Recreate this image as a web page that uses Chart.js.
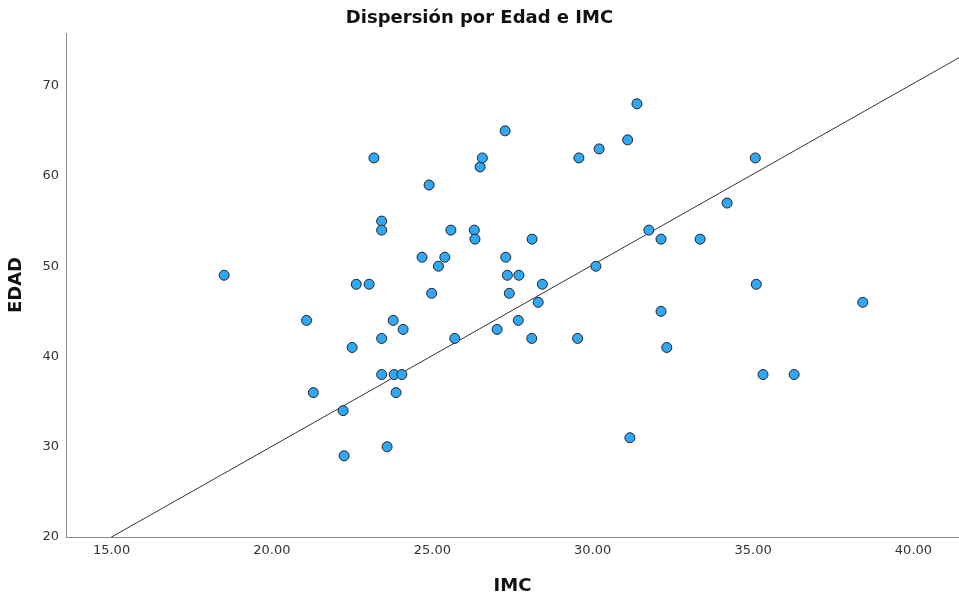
<!DOCTYPE html>
<html>
<head>
<meta charset="utf-8">
<script src="https://cdn.jsdelivr.net/npm/chart.js@4/dist/chart.umd.min.js"></script>
<style>
  html, body { margin: 0; padding: 0; background: #fff; }
  #wrap { width: 959px; height: 598px; }
</style>
</head>
<body>
<div id="wrap"><canvas id="scatterChart"></canvas></div>
<script>
const imcValues = [
  18.51, 21.08, 21.29, 22.22, 22.25, 22.50, 22.63, 23.03, 23.18, 23.42,
  23.42, 23.42, 23.42, 23.59, 23.78, 23.81, 23.87, 24.05, 24.09, 24.68,
  24.90, 24.98, 25.19, 25.39, 25.58, 25.70, 26.31, 26.33, 26.49, 26.56,
  27.02, 27.27, 27.29, 27.34, 27.40, 27.68, 27.70, 28.10, 28.11, 28.30,
  28.43, 29.53, 29.57, 30.10, 30.20, 31.09, 31.16, 31.38, 31.75, 32.13,
  32.13, 32.31, 33.35, 34.19, 35.07, 35.10, 35.31, 36.28, 38.42
];
const edadValues = [
  49, 44, 36, 34, 29, 41, 48, 48, 62, 55,
  54, 42, 38, 30, 44, 38, 36, 38, 43, 51,
  59, 47, 50, 51, 54, 42, 54, 53, 61, 62,
  43, 65, 51, 49, 47, 44, 49, 42, 53, 46,
  48, 42, 62, 50, 63, 64, 31, 68, 54, 53,
  45, 41, 53, 57, 62, 48, 38, 38, 46
];

// recta de ajuste: EDAD = slope * IMC + intercept
const fitSlope = 2.01;
const fitIntercept = -10.15;

const xRange = [13.58, 41.42];
const yRange = [20, 75.84];
const xTicks = [15, 20, 25, 30, 35, 40];
const yTicks = [20, 30, 40, 50, 60, 70];

const points = imcValues.map((x, i) => ({ x, y: edadValues[i] }));
const fitPoints = xRange.map(x => ({ x, y: fitSlope * x + fitIntercept }));

const tickFont = { family: 'DejaVu Sans', size: 13 };
const titleFont = { family: 'DejaVu Sans', size: 18, weight: 'bold' };

new Chart(document.getElementById('scatterChart'), {
  type: 'scatter',
  data: {
    datasets: [
      {
        label: 'Datos',
        data: points,
        backgroundColor: '#30a8f8',
        borderColor: '#222',
        borderWidth: 1,
        pointRadius: 5,
        pointHoverRadius: 5,
        order: 0
      },
      {
        label: 'Ajuste',
        type: 'line',
        data: fitPoints,
        borderColor: '#333',
        borderWidth: 1,
        pointRadius: 0,
        fill: false,
        order: 1
      }
    ]
  },
  options: {
    responsive: true,
    maintainAspectRatio: false,
    animation: false,
    layout: { padding: 0, autoPadding: false },
    plugins: {
      legend: { display: false },
      tooltip: { enabled: false },
      title: {
        display: true,
        text: 'Dispersión por Edad e IMC',
        color: '#111',
        font: titleFont,
        padding: { top: 8, bottom: 3.4 }
      }
    },
    scales: {
      x: {
        type: 'linear',
        min: xRange[0],
        max: xRange[1],
        afterBuildTicks: scale => { scale.ticks = xTicks.map(v => ({ value: v })); },
        afterFit: scale => { scale.height = 61; },
        grid: { display: false, drawTicks: false },
        border: { display: true, color: '#8a8a8a', width: 1 },
        ticks: {
          color: '#333',
          font: tickFont,
          padding: 6,
          maxRotation: 0,
          callback: v => Number(v).toFixed(2)
        },
        title: {
          display: true,
          text: 'IMC',
          color: '#111',
          font: titleFont,
          padding: { top: 0, bottom: 0.5 }
        }
      },
      y: {
        type: 'linear',
        min: yRange[0],
        max: yRange[1],
        afterBuildTicks: scale => { scale.ticks = yTicks.map(v => ({ value: v })); },
        afterFit: scale => { scale.width = 66; },
        grid: { display: false, drawTicks: false },
        border: { display: true, color: '#8a8a8a', width: 1 },
        ticks: {
          color: '#333',
          font: tickFont,
          padding: 7,
          callback: v => String(v)
        },
        title: {
          display: true,
          text: 'EDAD',
          color: '#111',
          font: titleFont,
          padding: { top: 5.6, bottom: 0 }
        }
      }
    }
  }
});
</script>
</body>
</html>
